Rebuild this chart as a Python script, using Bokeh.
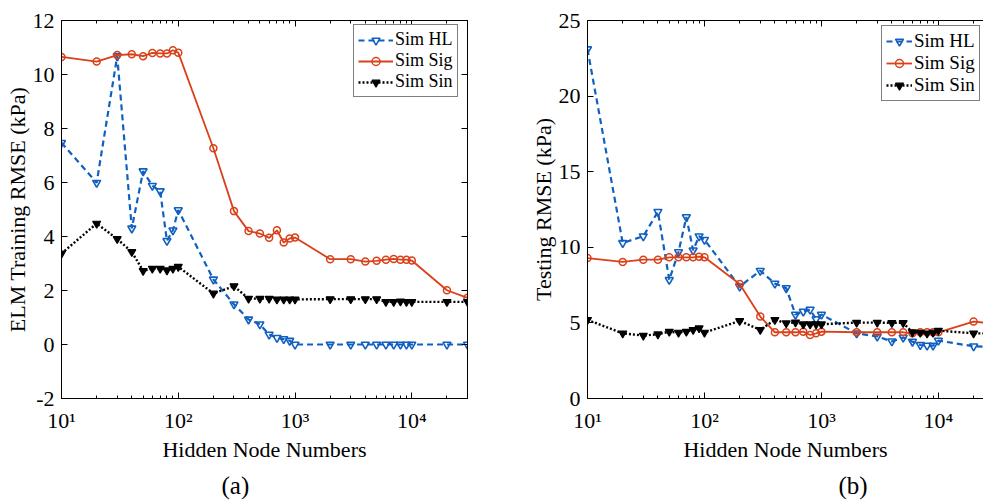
from bokeh.plotting import figure
from bokeh.layouts import row
from bokeh.models import FixedTicker, CustomJSTickFormatter, LogAxis, LinearAxis, Title
from bokeh.embed import file_html
from bokeh.resources import INLINE

# ---------------- data ----------------
nodes = [10, 20, 30, 40, 50, 60, 70, 80, 90, 100,
         200, 300, 400, 500, 600, 700, 800, 900, 1000,
         2000, 3000, 4000, 5000, 6000, 7000, 8000, 9000, 10000,
         20000, 30000]

train_hl = [7.47, 5.99, 10.68, 4.30, 6.42, 5.88, 5.68, 3.84, 4.23, 4.98,
            2.41, 1.49, 0.93, 0.75, 0.37, 0.25, 0.20, 0.14, 0.0,
            0.0, 0.0, 0.0, 0.0, 0.0, 0.0, 0.0, 0.0, 0.0,
            0.0, 0.0]
train_sig = [10.65, 10.48, 10.72, 10.75, 10.68, 10.80, 10.78, 10.78, 10.90, 10.81,
             7.27, 4.94, 4.20, 4.11, 3.95, 4.23, 3.78, 3.93, 3.96,
             3.16, 3.16, 3.07, 3.10, 3.14, 3.17, 3.14, 3.14, 3.11,
             2.01, 1.73]
train_sin = [3.37, 4.48, 3.91, 3.43, 2.73, 2.81, 2.81, 2.75, 2.81, 2.88,
             1.89, 2.16, 1.70, 1.70, 1.70, 1.67, 1.67, 1.67, 1.67,
             1.68, 1.68, 1.68, 1.68, 1.58, 1.58, 1.60, 1.58, 1.58,
             1.58, 1.58]

test_hl = [23.1, 10.29, 10.73, 12.35, 7.85, 9.69, 12.0, 9.8, 10.73, 10.5,
           7.41, 8.45, 7.6, 7.3, 5.55, 5.75, 5.88, 5.25, 5.55,
           4.31, 4.1, 3.78, 4.03, 3.76, 3.54, 3.5, 3.5, 3.83,
           3.45, 3.4]
test_sig = [9.29, 9.03, 9.18, 9.18, 9.34, 9.34, 9.34, 9.34, 9.38, 9.34,
            7.57, 5.42, 4.38, 4.38, 4.38, 4.42, 4.2, 4.31, 4.42,
            4.38, 4.38, 4.38, 4.38, 4.31, 4.38, 4.38, 4.38, 4.38,
            5.09, 4.95]
test_sin = [5.2, 4.31, 4.16, 4.25, 4.42, 4.36, 4.42, 4.54, 4.65, 4.36,
            5.13, 4.54, 5.2, 4.98, 5.04, 4.91, 4.91, 4.91, 4.91,
            5.02, 5.02, 5.0, 5.0, 4.38, 4.36, 4.31, 4.36, 4.49,
            4.31, 4.3]

x_major = [10, 100, 1000, 10000]
train_yticks = [-2, 0, 2, 4, 6, 8, 10, 12]
test_yticks = [0, 5, 10, 15, 20, 25]
series_names = ["Sim HL", "Sim Sig", "Sim Sin"]

# ---------------- style ----------------
FONT = "Times New Roman"
BLUE = "#1160c0"
RED = "#da4019"
BLACK = "#000000"
x_minor = [m * d for d in [10, 100, 1000, 10000] for m in range(2, 10)]

SUP_CODE = """
const s = {"0":"\u2070","1":"\u00b9","2":"\u00b2","3":"\u00b3","4":"\u2074","5":"\u2075",
           "6":"\u2076","7":"\u2077","8":"\u2078","9":"\u2079","-":"\u207b"};
const e = Math.round(Math.log10(tick));
return "10" + String(e).split("").map(c => s[c]).join("");
"""


def style_axis(ax, labels=True):
    ax.major_tick_in = 6
    ax.major_tick_out = 0
    ax.minor_tick_in = 3
    ax.minor_tick_out = 0
    ax.axis_line_color = BLACK
    ax.major_tick_line_color = BLACK
    ax.minor_tick_line_color = BLACK
    ax.major_label_text_font = FONT
    ax.major_label_text_color = BLACK
    ax.axis_label_text_font = FONT
    ax.axis_label_text_font_style = "normal"
    ax.axis_label_text_font_size = "22px"
    ax.axis_label_text_color = BLACK
    ax.major_label_text_font_size = "22px"
    if not labels:
        ax.formatter = CustomJSTickFormatter(code="return '';")
        ax.major_label_text_font_size = "4px"
        ax.major_label_standoff = 0


def make_panel(ylabel, hl, sig, sin, yr, yticks, x_end, width, mbl, mbr, mbb,
               right_box, tag, tag_offset, leg_font, leg_glyph_w, leg_loc):
    p = figure(width=width, height=503, x_axis_type="log",
               x_range=(10, x_end), y_range=yr,
               output_backend="svg", toolbar_location=None,
               min_border_left=mbl, min_border_right=mbr,
               min_border_top=20, min_border_bottom=mbb)
    p.grid.visible = False
    p.background_fill_color = "white"
    p.border_fill_color = "white"
    if right_box:
        p.outline_line_color = BLACK
    else:
        p.outline_line_color = None

    p.xaxis.ticker = FixedTicker(ticks=x_major, minor_ticks=x_minor)
    p.xaxis.formatter = CustomJSTickFormatter(code=SUP_CODE)
    p.xaxis.axis_label = "Hidden Node Numbers"
    p.yaxis.ticker = FixedTicker(ticks=yticks)
    p.yaxis.formatter = CustomJSTickFormatter(code="return String(tick);")
    p.yaxis.axis_label = ylabel
    for ax in p.xaxis:
        style_axis(ax)
        ax.major_label_standoff = 9
        ax.axis_label_standoff = 1
    for ax in p.yaxis:
        style_axis(ax)
        ax.minor_tick_line_color = None
        ax.major_label_standoff = 7
        ax.axis_label_standoff = 0

    top = LogAxis(ticker=FixedTicker(ticks=x_major, minor_ticks=x_minor))
    style_axis(top, labels=False)
    p.add_layout(top, "above")
    if right_box:
        rt = LinearAxis(ticker=FixedTicker(ticks=yticks))
        style_axis(rt, labels=False)
        rt.minor_tick_line_color = None
        p.add_layout(rt, "right")

    # series
    p.line(nodes, hl, line_color=BLUE, line_width=2.2, line_dash="6 4",
           legend_label=series_names[0])
    p.scatter(nodes, hl, marker="inverted_triangle", size=8, line_color=BLUE,
              line_width=1.6, fill_color="white", fill_alpha=0.0,
              legend_label=series_names[0])
    p.line(nodes, sig, line_color=RED, line_width=1.8,
           legend_label=series_names[1])
    p.scatter(nodes, sig, marker="circle", size=7, line_color=RED,
              line_width=1.5, fill_color="white", fill_alpha=0.0,
              legend_label=series_names[1])
    p.line(nodes, sin, line_color=BLACK, line_width=2.4, line_dash="2 2",
           legend_label=series_names[2])
    p.scatter(nodes, sin, marker="inverted_triangle", size=8, line_color=BLACK,
              line_width=1.2, fill_color=BLACK,
              legend_label=series_names[2])

    lg = p.legend[0]
    lg.location = leg_loc
    lg.margin = 0
    lg.padding = 4
    lg.spacing = 0
    lg.label_height = 20
    lg.glyph_height = 20
    lg.glyph_width = leg_glyph_w
    lg.label_standoff = 2
    lg.label_text_font = FONT
    lg.label_text_font_size = leg_font
    lg.label_text_color = BLACK
    lg.border_line_color = BLACK
    lg.border_line_width = 1
    lg.background_fill_color = "white"
    lg.background_fill_alpha = 1.0

    t = Title(text=tag, align="left", offset=tag_offset,
              text_font=FONT, text_font_size="25px", text_font_style="normal",
              text_color=BLACK, standoff=10)
    p.add_layout(t, "below")
    return p


left = make_panel("ELM Training RMSE (kPa)", train_hl, train_sig, train_sin,
                  (-2, 12), train_yticks, 30000, 490, 61, 23, 105, True,
                  "(a)", 160, "18px", 35, (292, 301))
right = make_panel("Testing RMSE (kPa)", test_hl, test_sig, test_sin,
                   (0, 25), test_yticks, 24300, 493, 97, 0, 105, False,
                   "(b)", 251, "19px", 26, (294, 297))

layout = row(left, right, spacing=0)
open("out.html", "w").write(file_html(layout, INLINE))
